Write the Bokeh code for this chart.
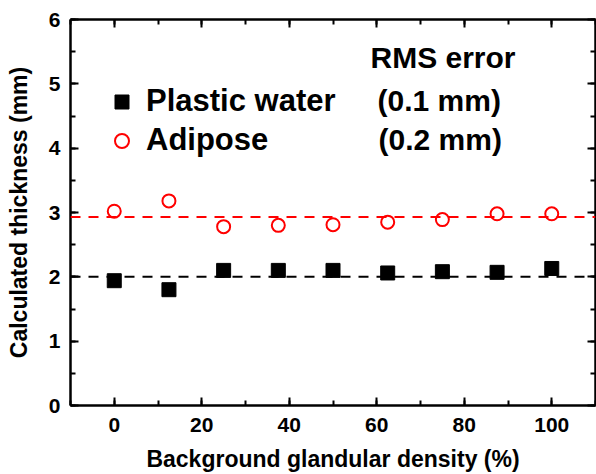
from bokeh.plotting import figure
from bokeh.models import (LinearAxis, Range1d, Span, Legend, LegendItem, Label,
                          BasicTicker, ColumnDataSource)
from bokeh.embed import file_html
from bokeh.resources import INLINE

# ---- data ----
density = [0, 12.5, 25, 37.5, 50, 62.5, 75, 87.5, 100]
plastic_water = [1.94, 1.80, 2.10, 2.10, 2.10, 2.06, 2.08, 2.07, 2.13]
adipose = [3.02, 3.18, 2.78, 2.80, 2.81, 2.85, 2.89, 2.98, 2.98]
plastic_ref = 2.0
adipose_ref = 2.93
rms_title = "RMS error"
rms_values = ["(0.1 mm)", "(0.2 mm)"]
series_names = ["Plastic water", "Adipose"]
x_title = "Background glandular density (%)"
y_title = "Calculated thickness (mm)"

FONT = "Liberation Sans"

p = figure(width=596, height=474, output_backend="svg", toolbar_location=None,
           x_range=Range1d(-10, 110), y_range=Range1d(0, 6),
           min_border_left=70, min_border_right=1, min_border_top=19,
           min_border_bottom=69)
p.grid.visible = False
p.outline_line_color = None
p.background_fill_color = "white"
p.border_fill_color = "white"


def style(ax, labels=True):
    ax.axis_line_width = 2.5
    ax.axis_line_color = "black"
    ax.major_tick_line_width = 2
    ax.minor_tick_line_width = 2
    ax.major_tick_in = 8
    ax.major_tick_out = 0
    ax.minor_tick_in = 5
    ax.minor_tick_out = 0
    ax.major_label_text_font = FONT
    ax.major_label_text_font_style = "bold"
    ax.major_label_text_font_size = "21px"
    ax.major_label_text_color = "black"
    ax.axis_label_text_font = FONT
    ax.axis_label_text_font_style = "bold"
    ax.axis_label_text_font_size = "23px"
    ax.axis_label_text_color = "black"
    if not labels:
        ax.major_label_text_font_size = "1px"
        ax.major_label_text_color = None
        ax.major_label_standoff = 0


xa = p.xaxis[0]
xa.ticker = BasicTicker(desired_num_ticks=6, num_minor_ticks=2)
style(xa)
xa.axis_label = x_title
xa.major_label_standoff = 12
xa.axis_label_standoff = 11

ya = p.yaxis[0]
ya.ticker = BasicTicker(desired_num_ticks=7, num_minor_ticks=2)
style(ya)
ya.axis_label = y_title
ya.major_label_standoff = 10
ya.axis_label_standoff = 14

top = LinearAxis(ticker=BasicTicker(desired_num_ticks=6, num_minor_ticks=2))
style(top, labels=False)
p.add_layout(top, "above")
right = LinearAxis(ticker=BasicTicker(desired_num_ticks=7, num_minor_ticks=2))
style(right, labels=False)
p.add_layout(right, "right")

# reference lines
p.add_layout(Span(location=plastic_ref, dimension="width", line_color="black",
                  line_width=2, line_dash="10 8"))
p.add_layout(Span(location=adipose_ref, dimension="width", line_color="red",
                  line_width=2, line_dash="10 8"))

src = ColumnDataSource(dict(x=density, pw=plastic_water, ad=adipose))
r1 = p.scatter("x", "pw", source=src, marker="square", size=14,
               fill_color="black", line_color="black", line_width=1)
r2 = p.scatter("x", "ad", source=src, marker="circle", size=13,
               fill_color=None, line_color="red", line_width=2)

legend = Legend(items=[LegendItem(label=series_names[0], renderers=[r1]),
                       LegendItem(label=series_names[1], renderers=[r2])],
                location=(34, 247), padding=0, spacing=3,
                glyph_width=35, glyph_height=35, label_height=35,
                label_standoff=7,
                label_text_font=FONT, label_text_font_style="bold",
                label_text_font_size="31px", label_text_color="black",
                border_line_color=None, background_fill_alpha=0)
p.add_layout(legend, "center")

for txt, sx, sy in [(rms_title, 300, 348), (rms_values[0], 307, 305),
                    (rms_values[1], 308, 266)]:
    p.add_layout(Label(x=sx, y=sy, x_units="screen", y_units="screen",
                       text=txt, text_font=FONT, text_font_style="bold",
                       text_font_size="30px", text_color="black",
                       text_baseline="middle", text_align="left"))

open("out.html", "w").write(file_html(p, INLINE))
